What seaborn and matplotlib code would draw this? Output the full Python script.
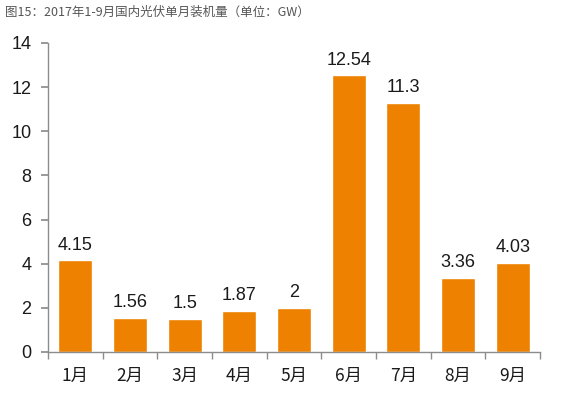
import matplotlib
matplotlib.use("Agg")
import matplotlib.pyplot as plt
import seaborn as sns
import pandas as pd

months = ["1月", "2月", "3月", "4月", "5月", "6月", "7月", "8月", "9月"]
installs = [4.15, 1.56, 1.5, 1.87, 2, 12.54, 11.3, 3.36, 4.03]
labels = ["4.15", "1.56", "1.5", "1.87", "2", "12.54", "11.3", "3.36", "4.03"]

sns.set_theme(style="white")
plt.rcParams['font.family'] = ['Noto Sans CJK SC', 'DejaVu Sans']

df = pd.DataFrame({"month": months, "gw": installs})

fig = plt.figure(figsize=(5.62, 3.98), dpi=100)
ax = fig.add_axes([0.0854, 0.1156, 0.8754, 0.7764])

sns.barplot(data=df, x="month", y="gw", color="#EE8100", saturation=1,
            width=0.62, ax=ax)

for i, (v, t) in enumerate(zip(installs, labels)):
    ax.text(i, v + 0.3, t, ha="center", va="bottom", fontsize=13,
            family=['Liberation Sans', 'DejaVu Sans'], color="#1a1a1a")

ax.set_ylim(0, 14)
ax.set_xlim(-0.5, len(months) - 0.5)
ax.set_yticks(range(0, 15, 2))
ax.set_xlabel("")
ax.set_ylabel("")

for s in ["top", "right"]:
    ax.spines[s].set_visible(False)
for s in ["left", "bottom"]:
    ax.spines[s].set_color("#8c8c8c")
    ax.spines[s].set_linewidth(1)

# x ticks at category boundaries
ax.set_xticks([i + 0.5 for i in range(-1, len(months))], minor=True)
ax.tick_params(axis="x", which="minor", length=5, color="#8c8c8c", direction="out", bottom=True)
ax.tick_params(axis="x", which="major", length=0, pad=11, labelsize=12.5, labelcolor="#1a1a1a")
ax.tick_params(axis="y", length=5, color="#8c8c8c", direction="out", left=True,
               labelsize=13, pad=7, labelcolor="#1a1a1a")
for lab in ax.get_yticklabels():
    lab.set_family(['Liberation Sans', 'DejaVu Sans'])

fig.text(0.009, 0.97, "图15：2017年1-9月国内光伏单月装机量（单位：GW）",
         fontsize=9, color="#555555", ha="left", va="center")

fig.savefig("out.png", dpi=100, facecolor="white")
